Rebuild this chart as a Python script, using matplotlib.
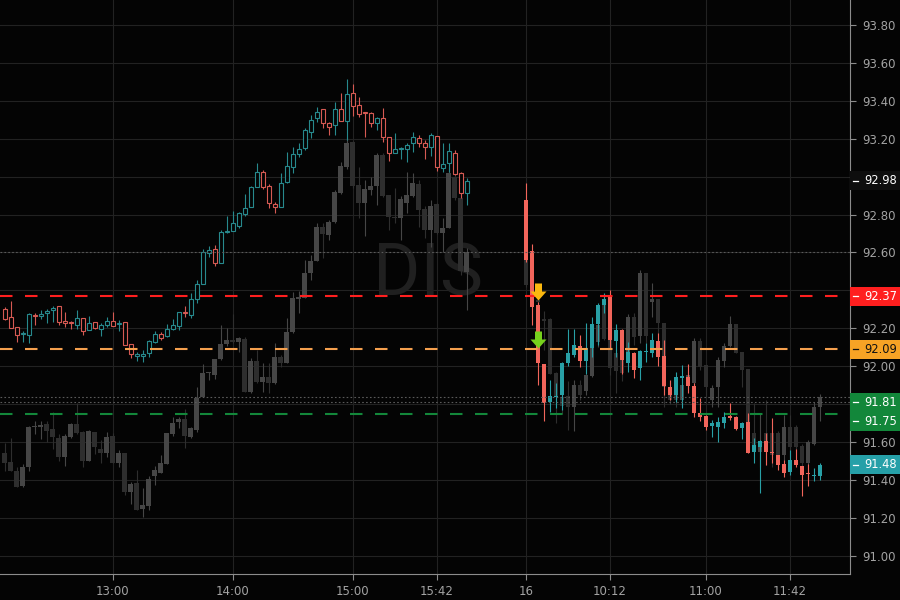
import numpy as np
import matplotlib
matplotlib.use('Agg')
from matplotlib import pyplot as plt
from matplotlib.path import Path
from matplotlib.patches import Rectangle
from matplotlib.ticker import FuncFormatter
import matplotlib.transforms as mtransforms

# ---- DIS, 3-minute bars, previous session (15th) from 12:06 and session of the 16th from 09:30
day1_open = [92.30, 92.26, 92.205, 92.17, 92.165, 92.27, 92.265, 92.283, 92.295, 92.316,
             92.239, 92.232, 92.22, 92.253, 92.19, 92.232, 92.195, 92.216, 92.237, 92.223,
             92.232, 92.116, 92.053, 92.053, 92.072, 92.13, 92.17, 92.162, 92.198, 92.214,
             92.281, 92.272, 92.355, 92.432, 92.599, 92.618, 92.543, 92.706, 92.715, 92.742,
             92.803, 92.842, 92.944, 93.023, 92.951, 92.856, 92.842, 92.974, 93.049, 93.12,
             93.153, 93.237, 93.308, 93.355, 93.281, 93.273, 93.355, 93.296, 93.44, 93.378,
             93.339, 93.334, 93.285, 93.308, 93.208, 93.127, 93.144, 93.144, 93.176, 93.202,
             93.176, 93.155, 93.215, 93.044, 93.074, 93.127, 93.018, 92.912]
day1_high = [92.315, 92.345, 92.205, 92.185, 92.28, 92.28, 92.297, 92.30, 92.318, 92.316,
             92.286, 92.237, 92.297, 92.253, 92.265, 92.232, 92.23, 92.258, 92.286, 92.244,
             92.235, 92.116, 92.074, 92.086, 92.139, 92.186, 92.183, 92.223, 92.248, 92.285,
             92.318, 92.385, 92.455, 92.618, 92.634, 92.639, 92.719, 92.793, 92.821, 92.816,
             92.909, 92.95, 93.07, 93.035, 92.96, 92.868, 93.018, 93.132, 93.158, 93.176,
             93.255, 93.325, 93.366, 93.355, 93.29, 93.396, 93.443, 93.515, 93.49, 93.419,
             93.343, 93.343, 93.317, 93.36, 93.208, 93.229, 93.158, 93.176, 93.237, 93.22,
             93.194, 93.229, 93.215, 93.18, 93.18, 93.141, 93.025, 92.991]
day1_low = [92.245, 92.20, 92.13, 92.13, 92.12, 92.22, 92.248, 92.23, 92.235, 92.22,
            92.205, 92.195, 92.195, 92.165, 92.19, 92.195, 92.16, 92.209, 92.214, 92.185,
            92.114, 92.042, 92.03, 92.02, 92.051, 92.121, 92.139, 92.153, 92.191, 92.191,
            92.258, 92.253, 92.332, 92.432, 92.575, 92.531, 92.543, 92.705, 92.715, 92.731,
            92.794, 92.84, 92.944, 92.933, 92.833, 92.807, 92.842, 92.965, 93.018, 93.102,
            93.141, 93.202, 93.29, 93.255, 93.22, 93.22, 93.296, 93.194, 93.32, 93.317,
            93.208, 93.264, 93.246, 93.185, 93.085, 93.127, 93.092, 93.08, 93.132, 93.158,
            93.093, 93.11, 93.032, 93.027, 93.027, 93.01, 92.886, 92.851]
day1_close = [92.25, 92.20, 92.165, 92.175, 92.275, 92.265, 92.275, 92.286, 92.305, 92.232,
              92.227, 92.229, 92.253, 92.185, 92.226, 92.20, 92.216, 92.237, 92.214, 92.225,
              92.114, 92.063, 92.065, 92.065, 92.131, 92.17, 92.151, 92.195, 92.216, 92.285,
              92.279, 92.355, 92.434, 92.603, 92.613, 92.543, 92.706, 92.708, 92.754, 92.807,
              92.833, 92.944, 93.023, 92.944, 92.863, 92.842, 92.965, 93.056, 93.12, 93.144,
              93.246, 93.299, 93.343, 93.285, 93.264, 93.355, 93.296, 93.436, 93.373, 93.329,
              93.336, 93.285, 93.308, 93.211, 93.123, 93.144, 93.146, 93.167, 93.208, 93.176,
              93.155, 93.22, 93.053, 93.067, 93.137, 93.014, 92.916, 92.979]

day2_open = [92.877, 92.608, 92.323, 92.012, 91.813, 91.836, 91.848, 92.019, 92.06, 92.107,
             92.03, 92.094, 92.223, 92.323, 92.367, 92.135, 92.191, 92.015, 92.072, 91.989,
             92.077, 92.072, 92.133, 92.054, 91.892, 91.848, 91.94, 91.942, 91.896, 91.752,
             91.738, 91.683, 91.682, 91.703, 91.733, 91.734, 91.676, 91.708, 91.55, 91.573,
             91.608, 91.548, 91.532, 91.485, 91.444, 91.506, 91.474, 91.439, 91.42, 91.421]
day2_high = [92.968, 92.645, 92.341, 92.012, 91.93, 91.91, 92.024, 92.195, 92.195, 92.165,
             92.23, 92.261, 92.332, 92.385, 92.402, 92.223, 92.195, 92.13, 92.077, 92.086,
             92.12, 92.174, 92.174, 92.14, 91.927, 91.971, 92.006, 92.012, 91.91, 91.831,
             91.742, 91.717, 91.73, 91.76, 91.805, 91.736, 91.708, 91.752, 91.62, 91.61,
             91.646, 91.725, 91.532, 91.506, 91.559, 91.562, 91.474, 91.485, 91.462, 91.49]
day2_low = [92.55, 92.218, 91.90, 91.713, 91.76, 91.78, 91.77, 92.0, 92.05, 91.994,
            91.96, 92.05, 92.112, 92.279, 92.094, 92.05, 91.96, 91.97, 91.936, 91.927,
            92.02, 92.05, 92.0, 91.848, 91.82, 91.813, 91.778, 91.857, 91.734, 91.713,
            91.664, 91.625, 91.602, 91.673, 91.717, 91.665, 91.615, 91.541, 91.488, 91.333,
            91.479, 91.488, 91.45, 91.418, 91.427, 91.47, 91.316, 91.369, 91.392, 91.40]
day2_close = [92.56, 92.314, 92.016, 91.808, 91.843, 91.84, 92.015, 92.072, 92.112, 92.03,
              92.094, 92.223, 92.323, 92.353, 92.138, 92.191, 92.033, 92.077, 91.98, 92.08,
              92.079, 92.138, 92.05, 91.896, 91.848, 91.942, 91.942, 91.896, 91.752, 91.734,
              91.682, 91.70, 91.708, 91.731, 91.729, 91.668, 91.703, 91.541, 91.585, 91.603,
              91.55, 91.544, 91.479, 91.439, 91.506, 91.479, 91.427, 91.432, 91.422, 91.48]

# comparison series drawn in grey behind the main one
cmp1_open = [91.544, 91.497, 91.449, 91.369, 91.467, 91.678, 91.678, 91.696, 91.667, 91.624,
             91.523, 91.629, 91.696, 91.655, 91.502, 91.655, 91.562, 91.544, 91.632, 91.492,
             91.544, 91.334, 91.386, 91.245, 91.263, 91.421, 91.439, 91.485, 91.643, 91.708,
             91.72, 91.629, 91.664, 91.84, 91.963, 91.954, 92.037, 92.118, 92.139, 92.13,
             92.144, 91.866, 92.028, 91.919, 91.945, 91.914, 92.051, 92.015, 92.183, 92.353,
             92.358, 92.49, 92.557, 92.733, 92.692, 92.763, 92.916, 93.05, 93.185, 92.956,
             92.863, 92.93, 92.951, 93.114, 92.903, 92.789, 92.78, 92.863, 92.898, 92.962,
             92.828, 92.719, 92.856, 92.701, 92.728, 93.0, 92.886, 92.497]
cmp1_high = [91.594, 91.62, 91.467, 91.485, 91.685, 91.713, 91.713, 91.713, 91.757, 91.643,
             91.643, 91.703, 91.805, 91.66, 91.664, 91.655, 91.611, 91.655, 91.646, 91.558,
             91.544, 91.391, 91.453, 91.356, 91.423, 91.474, 91.532, 91.65, 91.734, 91.73,
             91.777, 91.682, 91.892, 92.012, 91.97, 92.037, 92.218, 92.20, 92.276, 92.156,
             92.156, 92.042, 92.086, 92.019, 92.019, 92.12, 92.06, 92.253, 92.393, 92.398,
             92.56, 92.587, 92.754, 92.754, 92.771, 92.93, 93.08, 93.21, 93.19, 93.05,
             92.982, 93.0, 93.123, 93.123, 92.903, 92.94, 92.898, 93.027, 93.021, 92.983,
             92.845, 92.877, 92.86, 92.78, 93.053, 93.027, 92.90, 92.624]
cmp1_low = [91.449, 91.449, 91.362, 91.362, 91.449, 91.643, 91.615, 91.602, 91.562, 91.502,
            91.474, 91.62, 91.643, 91.467, 91.502, 91.537, 91.488, 91.523, 91.488, 91.467,
            91.321, 91.273, 91.242, 91.207, 91.242, 91.374, 91.435, 91.485, 91.632, 91.673,
            91.567, 91.62, 91.655, 91.84, 91.93, 91.934, 92.033, 92.108, 92.12, 92.077,
            91.866, 91.858, 91.91, 91.866, 91.857, 91.907, 91.998, 92.015, 92.177, 92.279,
            92.358, 92.455, 92.557, 92.569, 92.666, 92.754, 92.91, 93.04, 92.94, 92.78,
            92.687, 92.904, 92.85, 92.895, 92.719, 92.754, 92.666, 92.807, 92.895, 92.736,
            92.675, 92.631, 92.698, 92.605, 92.728, 92.877, 92.48, 92.297]
cmp1_close = [91.492, 91.449, 91.365, 91.467, 91.682, 91.68, 91.69, 91.66, 91.629, 91.523,
              91.632, 91.696, 91.65, 91.502, 91.66, 91.572, 91.541, 91.629, 91.488, 91.544,
              91.339, 91.379, 91.242, 91.268, 91.405, 91.453, 91.488, 91.646, 91.703, 91.72,
              91.633, 91.673, 91.831, 91.963, 91.97, 92.037, 92.118, 92.139, 92.128, 92.147,
              91.866, 92.028, 91.919, 91.945, 91.914, 92.05, 92.015, 92.183, 92.358, 92.367,
              92.494, 92.557, 92.733, 92.698, 92.763, 92.921, 93.056, 93.18, 92.951, 92.863,
              92.933, 92.951, 93.114, 92.898, 92.789, 92.78, 92.88, 92.903, 92.969, 92.824,
              92.719, 92.845, 92.701, 92.731, 93.021, 92.886, 92.50, 92.603]

cmp2_open = [92.60, 92.43, 92.35, 92.25, 92.247, 91.963, 91.84, 91.843, 91.787, 91.901,
             91.87, 91.948, 92.13, 92.349, 92.147, 92.07, 92.06, 92.06, 92.261, 92.159,
             92.493, 92.341, 92.353, 92.226, 91.892, 91.901, 91.822, 91.90, 91.91, 92.135,
             92.006, 91.822, 91.892, 92.03, 92.107, 92.223, 92.077, 91.984, 91.646, 91.55,
             91.65, 91.65, 91.65, 91.53, 91.678, 91.678, 91.579, 91.488, 91.59, 91.783]
cmp2_high = [92.62, 92.47, 92.36, 92.29, 92.252, 91.97, 91.86, 91.924, 91.93, 91.93,
             91.96, 92.208, 92.26, 92.38, 92.147, 92.10, 92.07, 92.275, 92.28, 92.507,
             92.493, 92.44, 92.353, 92.226, 91.91, 91.936, 91.936, 91.96, 92.147, 92.147,
             92.006, 91.90, 92.05, 92.12, 92.265, 92.223, 92.077, 91.984, 91.805, 91.75,
             91.82, 91.68, 91.66, 91.743, 91.743, 91.69, 91.59, 91.61, 91.813, 91.854]
cmp2_low = [92.42, 92.33, 92.30, 92.085, 91.959, 91.70, 91.75, 91.664, 91.66, 91.82,
            91.85, 91.945, 92.10, 92.14, 91.955, 91.86, 91.92, 92.0, 92.11, 92.12,
            92.12, 92.26, 92.13, 91.787, 91.80, 91.787, 91.787, 91.88, 91.892, 91.98,
            91.839, 91.787, 91.787, 91.998, 92.10, 92.068, 91.892, 91.541, 91.54, 91.47,
            91.48, 91.47, 91.50, 91.50, 91.523, 91.55, 91.47, 91.48, 91.585, 91.713]
cmp2_close = [92.43, 92.36, 92.34, 92.24, 91.959, 91.84, 91.79, 91.783, 91.901, 91.848,
              91.954, 92.13, 92.215, 92.142, 91.989, 91.975, 91.966, 92.261, 92.156, 92.493,
              92.159, 92.353, 92.226, 91.892, 91.822, 91.822, 91.90, 91.954, 92.135, 91.998,
              91.892, 91.883, 92.033, 92.107, 92.223, 92.072, 91.98, 91.646, 91.55, 91.60,
              91.576, 91.53, 91.53, 91.678, 91.576, 91.576, 91.488, 91.602, 91.783, 91.84]

day1_start = '12:06'
day2_start = '09:30'
bar_minutes = 3

tick_times = ['13:00', '14:00', '15:00', '15:42', '09:30', '10:12', '11:00', '11:42']
tick_session = [1, 1, 1, 1, 2, 2, 2, 2]
tick_labels = ['13:00', '14:00', '15:00', '15:42', '16', '10:12', '11:00', '11:42']

level_prices = [92.37, 92.09, 91.75]
level_colors = ['#ff1f1f', '#f5a04e', '#13873a']
extra_level = 91.81

signal_bar = 2          # day-2 bar with the two entry arrows
signal_prices = [92.35, 92.095]
signal_colors = ['#fbb80f', '#76d11c']

BG = '#040404'
GRID = '#222222'
TEAL = '#28a0a6'
RED = '#f2655b'
TEAL_DIM = '#27898d'
RED_DIM = '#d65a53'
GREY_UP = '#464646'
GREY_DN = '#2e2e2e'


def minutes(t):
    hh, mm = t.split(':')
    return int(hh) * 60 + int(mm)


def draw_candles(ax, x, o, h, l, c, up_col, dn_col, hollow=False, width=0.78, z=2.0):
    o, h, l, c = (np.asarray(a, dtype=float) for a in (o, h, l, c))
    up = c >= o
    cols = np.where(up, up_col, dn_col)
    lo = np.minimum(o, c)
    hgt = np.maximum(np.abs(c - o), 0.006)
    ax.vlines(x, l, h, colors=cols, linewidth=0.8, zorder=z)
    if hollow:
        ax.bar(x, hgt, width, bottom=lo, facecolor=BG, edgecolor=cols,
               linewidth=0.8, zorder=z + 0.1)
    else:
        ax.bar(x, hgt, width, bottom=lo, color=cols, linewidth=0, zorder=z + 0.1)


n1 = len(day1_open)
session_gap = 8.88
x1 = np.arange(n1)
x2 = n1 + session_gap + np.arange(len(day2_open))


def bar_pos(t, session):
    if session == 1:
        return (minutes(t) - minutes(day1_start)) / bar_minutes
    return n1 + session_gap + (minutes(t) - minutes(day2_start)) / bar_minutes


fig = plt.figure(figsize=(9, 6), dpi=100, facecolor=BG)
ax = fig.add_axes([0, 26 / 600, 850 / 900, 574 / 600])
ax.set_facecolor(BG)
ax.set_axisbelow(True)

ax.text(0.503, 0.486, 'DIS', transform=ax.transAxes, fontsize=52, family='Roboto',
        color='#202020', ha='center', va='baseline', zorder=0.7)

draw_candles(ax, x1, cmp1_open, cmp1_high, cmp1_low, cmp1_close, GREY_UP, GREY_DN, z=1.0)
draw_candles(ax, x2, cmp2_open, cmp2_high, cmp2_low, cmp2_close, GREY_UP, GREY_DN, z=1.0)
draw_candles(ax, x1, day1_open, day1_high, day1_low, day1_close, TEAL_DIM, RED_DIM,
             hollow=True, width=0.72, z=3.0)
draw_candles(ax, x2, day2_open, day2_high, day2_low, day2_close, TEAL, RED, z=3.0)

# dotted reference lines (last closes of the grey series and the 91.81 level)
for p in [cmp1_close[-1], cmp2_close[-1], extra_level]:
    ax.axhline(p, color='#5a5a5a', linewidth=0.8, linestyle=(0, (1.5, 2.0)), zorder=4)

for p, col in zip(level_prices, level_colors):
    ax.axhline(p, color=col, linewidth=1.5, linestyle=(0, (6, 6)), zorder=5)

# down arrows
arrow = Path([(0, 0), (-8, 9), (-3.5, 9), (-3.5, 17), (3.5, 17), (3.5, 9), (8, 9), (0, 0)],
             [Path.MOVETO] + [Path.LINETO] * 6 + [Path.CLOSEPOLY])
for p, col in zip(signal_prices, signal_colors):
    ax.plot(x2[signal_bar], p, marker=arrow, markersize=24.5, color=col,
            markeredgewidth=0, linestyle='none', zorder=6)

ax.set_xlim(-0.78, 140.88)
ax.set_ylim(90.904, 93.932)

# price labels on the right scale
labels = [(day1_close[-1], '#0e0e0e', 'white'),
          (level_prices[0], level_colors[0], 'white'),
          (level_prices[1], '#f7a325', '#111111'),
          (extra_level, '#12873a', 'white'),
          (level_prices[2], '#12873a', 'white'),
          (day2_close[-1], '#26a0a8', 'white')]
labels.sort(key=lambda r: -r[0])
box_h = 0.1
centres = []
prev = None
for price, bg, fg in labels:
    centre = price
    if prev is not None and prev - centre < box_h:
        centre = prev - box_h
    prev = centre
    centres.append(centre)

yticks = np.round(np.arange(91.0, 93.81, 0.2), 2)


def tick_fmt(v, pos):
    # scale values hidden under a price label box are left blank
    if any(abs(v - c) < 0.075 for c in centres):
        return ''
    return f'{v:.2f}'


ax.yaxis.tick_right()
ax.set_yticks(yticks)
ax.yaxis.set_major_formatter(FuncFormatter(tick_fmt))
ax.set_xticks([bar_pos(t, s) for t, s in zip(tick_times, tick_session)])
ax.set_xticklabels(tick_labels)
ax.tick_params(axis='y', colors='#8c8c8c', labelcolor='#a3a3a3', labelsize=8.5,
               length=4, width=0.8, pad=5)
ax.tick_params(axis='x', colors='#8c8c8c', labelcolor='#a3a3a3', labelsize=8.5,
               length=4, width=0.8, pad=4)
ax.grid(True, color=GRID, linewidth=0.8)
for side in ['top', 'left']:
    ax.spines[side].set_visible(False)
for side in ['right', 'bottom']:
    ax.spines[side].set_color('#8c8c8c')
    ax.spines[side].set_linewidth(0.8)

trans = mtransforms.blended_transform_factory(ax.transAxes, ax.transData)
for (price, bg, fg), centre in zip(labels, centres):
    ax.add_patch(Rectangle((1.0, centre - box_h / 2), 50 / 850, box_h, transform=trans,
                           facecolor=bg, edgecolor='none', clip_on=False, zorder=10))
    ax.plot([1.003, 1.009], [centre, centre], transform=trans, color=fg, linewidth=0.9,
            clip_on=False, zorder=11)
    ax.text(1.0 + 14 / 850, centre, f'{price:.2f}', transform=trans, color=fg,
            fontsize=8.3, ha='left', va='center', zorder=11)

fig.savefig('out.png', dpi=100, facecolor=BG)
